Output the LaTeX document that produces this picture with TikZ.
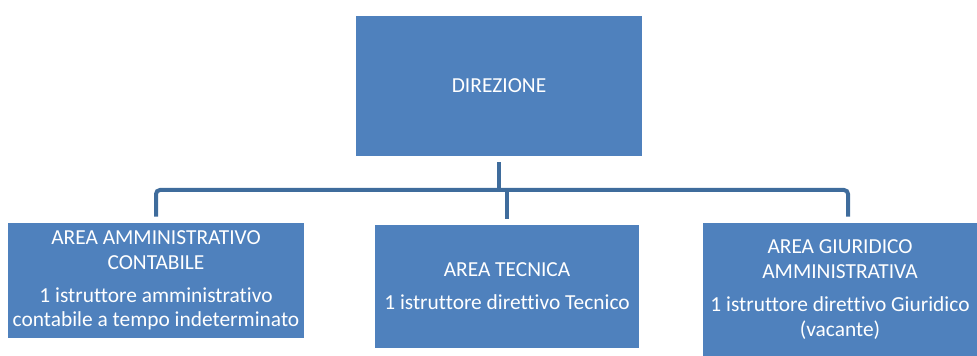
\documentclass[tikz,border=0pt]{standalone}
\usepackage{fontspec}
\setmainfont{Carlito}[Ligatures=NoCommon]
\definecolor{boxblue}{HTML}{4F81BD}
\definecolor{linkblue}{HTML}{3F6C9C}

\begin{document}
\begin{tikzpicture}[x=0.5pt, y=-0.5pt,
    box/.style={rectangle, fill=boxblue, text=white, align=center, inner sep=0pt,
        font=\fontsize{10.7}{12.4}\selectfont},
    link/.style={draw=linkblue, line width=2pt}]
    \useasboundingbox (0,0) rectangle (977,356);

    % ノードの定義
    \node[box, minimum width=143pt, minimum height=70pt] (dir) at (499, 86) {DIREZIONE};
    \node[box, minimum width=148pt, minimum height=57.5pt] (adm) at (156, 280.5)
        {AREA AMMINISTRATIVO\\ CONTABILE\\[4pt] 1 istruttore amministrativo\\ contabile a tempo indeterminato};
    \node[box, minimum width=132pt, minimum height=61.5pt] (tec) at (507, 286.5)
        {AREA TECNICA\\[4pt] 1 istruttore direttivo Tecnico};
    \node[box, minimum width=137pt, minimum height=66.5pt] (giu) at (840, 289.5)
        {AREA GIURIDICO\\ AMMINISTRATIVA\\[4pt] 1 istruttore direttivo Giuridico\\ (vacante)};

    % 接続線
    \coordinate (bus) at (499, 190);
    \draw[link] ([yshift=-3pt]dir.south) -- (bus);
    \draw[link, rounded corners=2pt] ([yshift=3pt]adm.north) |- (bus) -| ([xshift=4pt, yshift=3pt]giu.north);
    \draw[link] (bus -| tec.north) -- ([yshift=3pt]tec.north);
\end{tikzpicture}
\end{document}
